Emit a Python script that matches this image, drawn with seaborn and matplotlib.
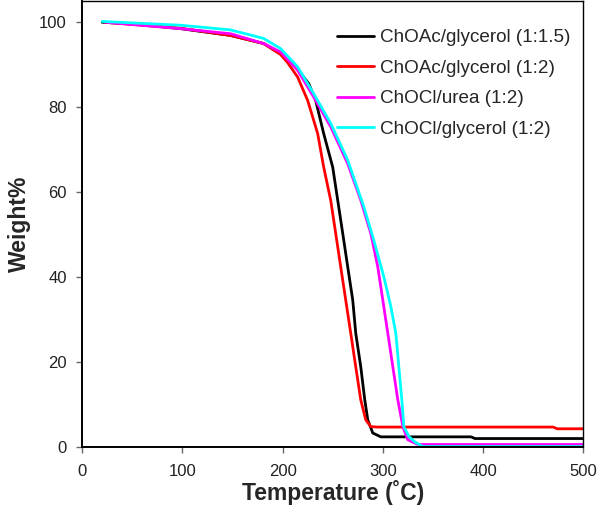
import pandas as pd
import matplotlib
matplotlib.use("Agg")
import matplotlib.pyplot as plt
import seaborn as sns

# TGA curves
labels = [
    "ChOAc/glycerol (1:1.5)",
    "ChOAc/glycerol (1:2)",
    "ChOCl/urea (1:2)",
    "ChOCl/glycerol (1:2)",
]
colors = ["#000000", "#ff0000", "#ff00ff", "#00ffff"]

t_black = [20, 50, 98, 148, 181, 198, 212, 226, 233, 241, 250, 255, 260, 265,
           270, 273, 278, 282, 285, 290, 298, 320, 388, 392, 500]
w_black = [100, 99.6, 98.5, 96.9, 95.0, 92.6, 89.8, 85.6, 81.6, 73.8, 65.9, 58.1,
           50.3, 42.4, 34.6, 26.8, 18.9, 11.1, 6.4, 3.3, 2.4, 2.4, 2.4, 2.0, 2.0]

t_red = [23, 98, 148, 181, 198, 205, 215, 225, 235, 241, 248, 253, 258, 263,
         268, 273, 278, 283, 288, 295, 470, 474, 500]
w_red = [100, 98.6, 96.9, 95.0, 92.4, 90.5, 87.1, 81.6, 73.8, 65.9, 58.1, 50.3,
         42.4, 34.6, 26.8, 18.9, 11.1, 6.4, 4.8, 4.7, 4.7, 4.3, 4.3]

t_magenta = [23, 98, 148, 181, 198, 215, 231, 248, 265, 278, 288, 295, 300,
             305, 310, 315, 320, 325, 335, 500]
w_magenta = [100, 98.5, 97.3, 95.0, 93.0, 88.7, 82.4, 75.4, 66.7, 58.1, 50.3,
             42.4, 34.6, 26.8, 18.9, 11.1, 4.8, 1.7, 0.6, 0.6]

t_cyan = [20, 98, 148, 181, 198, 215, 231, 248, 265, 281, 291, 301, 308, 313,
          316, 319, 321, 326, 332, 340, 500]
w_cyan = [100.2, 99.3, 98.2, 96.2, 93.8, 89.5, 83.2, 76.2, 67.5, 56.6, 48.7,
          40.1, 33.1, 26.8, 18.9, 11.1, 4.8, 2.5, 1.2, 0.1, 0.1]

x_ticks = [0, 100, 200, 300, 400, 500]
y_ticks = [0, 20, 40, 60, 80, 100]

frames = []
for name, t, w in zip(labels,
                      [t_black, t_red, t_magenta, t_cyan],
                      [w_black, w_red, w_magenta, w_cyan]):
    frames.append(pd.DataFrame({"Temperature": t, "Weight": w, "Sample": name}))
df = pd.concat(frames, ignore_index=True)

sns.set_style("ticks")
plt.rcParams["font.family"] = ["Liberation Sans", "DejaVu Sans"]

fig = plt.figure(figsize=(6.0, 5.08), dpi=100)
ax = fig.add_axes([0.137, 0.12, 0.835, 0.878])

sns.lineplot(data=df, x="Temperature", y="Weight", hue="Sample",
             hue_order=labels, palette=colors, estimator=None, sort=False,
             linewidth=2.0, ax=ax)

ax.set_xlim(0, 500)
ax.set_ylim(0, 105)
ax.set_xticks(x_ticks)
ax.set_yticks(y_ticks)
ax.tick_params(axis="both", direction="out", length=4, width=1,
               labelsize=12, labelcolor="#222222", color="#666666")
ax.tick_params(axis="x", pad=8)
ax.tick_params(axis="y", pad=7)

for side in ["left", "bottom"]:
    ax.spines[side].set_linewidth(1.4)
for side in ["top", "right"]:
    ax.spines[side].set_linewidth(1.0)
for s in ax.spines.values():
    s.set_color("black")

ax.set_xlabel("Temperature (˚C)", fontsize=16.5, fontweight="bold", labelpad=1)
ax.set_ylabel("Weight%", fontsize=16.5, fontweight="bold", labelpad=6)

ax.legend(loc="upper left", bbox_to_anchor=(0.509, 0.937), frameon=False,
          fontsize=13.6, handlelength=1.95, handletextpad=0.3,
          labelspacing=0.7, borderpad=0, borderaxespad=0)

fig.savefig("out.png", dpi=100)
plt.close(fig)
